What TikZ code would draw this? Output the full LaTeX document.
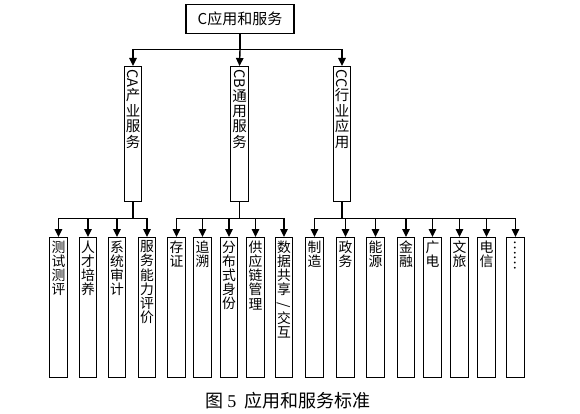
\documentclass[tikz,border=0pt]{standalone}
\usepackage{fontspec}
\usepackage{graphicx}
\setmainfont{Noto Sans CJK SC}
\newfontfamily\capserif{Liberation Serif}
\usetikzlibrary{arrows.meta}
\newcommand{\vtxt}[2]{\parbox[t][#1][t]{17pt}{\centering\fontsize{13.8}{14.2}\selectfont\vspace*{3pt}#2}}
\newcommand{\vtxtm}[2]{\parbox[t][#1][t]{17pt}{\centering\fontsize{14.5}{15.4}\selectfont\vspace*{3pt}#2}}
\tikzset{
  boxbase/.style={draw, line width=1.4pt, inner sep=0pt, anchor=north, minimum width=17.5pt},
  midbox/.style={boxbase},
  leafbox/.style={boxbase},
  topbox/.style={draw, line width=1.4pt, minimum width=108pt, minimum height=29pt, inner sep=0pt, font=\fontsize{15}{16}\selectfont},
  conn/.style={line width=1.4pt},
  arr/.style={conn, -{Triangle[width=7.5pt,length=8pt]}}
}
\begin{document}
\begin{tikzpicture}[x=1pt,y=-1pt]
\useasboundingbox (0,0) rectangle (580,414);
% top
\node[topbox] (top) at (240,19) {C应用和服务};
% middle level
\node[midbox] (ca) at (133,66) {\vtxtm{135pt}{\rotatebox[origin=c]{-90}{CA}\\产\\业\\服\\务}};
\node[midbox] (cb) at (239.5,66) {\vtxtm{135pt}{\rotatebox[origin=c]{-90}{CB}\\通\\用\\服\\务}};
\node[midbox] (cc) at (342,66) {\vtxtm{135pt}{\rotatebox[origin=c]{-90}{CC}\\行\\业\\应\\用}};
\coordinate (j0) at (240,49.5);
\draw[conn] (top.south) -- (j0);
\draw[arr] (j0) -| (ca.north);
\draw[arr] (j0) -| (cc.north);
\draw[arr] (j0) -- (cb.north);
% leaves group A
\node[leafbox] (a1) at (58.5,237) {\vtxt{140pt}{测\\试\\测\\评}};
\node[leafbox] (a2) at (88,237) {\vtxt{140pt}{人\\才\\培\\养}};
\node[leafbox] (a3) at (117,237) {\vtxt{140pt}{系\\统\\审\\计}};
\node[leafbox] (a4) at (147,237) {\vtxt{140pt}{服\\务\\能\\力\\评\\价}};
% leaves group B
\node[leafbox] (b1) at (176.5,237) {\vtxt{140pt}{存\\证}};
\node[leafbox] (b2) at (202.5,237) {\vtxt{140pt}{追\\溯}};
\node[leafbox] (b3) at (229,237) {\vtxt{140pt}{分\\布\\式\\身\\份}};
\node[leafbox] (b4) at (255.5,237) {\vtxt{140pt}{供\\应\\链\\管\\理}};
\node[leafbox] (b5) at (284,237) {\vtxt{140pt}{数\\据\\共\\享\\\rotatebox[origin=c]{-90}{/}\\交\\互}};
% leaves group C
\node[leafbox] (c1) at (314.5,237) {\vtxt{140pt}{制\\造}};
\node[leafbox] (c2) at (345.5,237) {\vtxt{140pt}{政\\务}};
\node[leafbox] (c3) at (375.5,237) {\vtxt{140pt}{能\\源}};
\node[leafbox] (c4) at (406,237) {\vtxt{140pt}{金\\融}};
\node[leafbox] (c5) at (432.5,237) {\vtxt{140pt}{广\\电}};
\node[leafbox] (c6) at (459.5,237) {\vtxt{140pt}{文\\旅}};
\node[leafbox] (c7) at (486.5,237) {\vtxt{140pt}{电\\信}};
\node[leafbox] (c8) at (515.5,237) {\vtxt{140pt}{\rotatebox[origin=c]{-90}{……}}};
% connectors to leaves
\coordinate (ja) at (133,218.5);
\coordinate (jb) at (239.5,218.5);
\coordinate (jc) at (342,218.5);
\draw[conn] (ca.south) -- (ja);
\draw[conn] (cb.south) -- (jb);
\draw[conn] (cc.south) -- (jc);
\foreach \n in {a1,a2,a3,a4} \draw[arr] (ja) -| (\n.north);
\foreach \n in {b1,b2,b3,b4,b5} \draw[arr] (jb) -| (\n.north);
\foreach \n in {c1,c2,c3,c4,c5,c6,c7,c8} \draw[arr] (jc) -| (\n.north);
% caption
\node[font=\fontsize{18}{20}\selectfont] (cap) at (288,401) {图 {\capserif 5} \ 应用和服务标准};
\end{tikzpicture}
\end{document}
